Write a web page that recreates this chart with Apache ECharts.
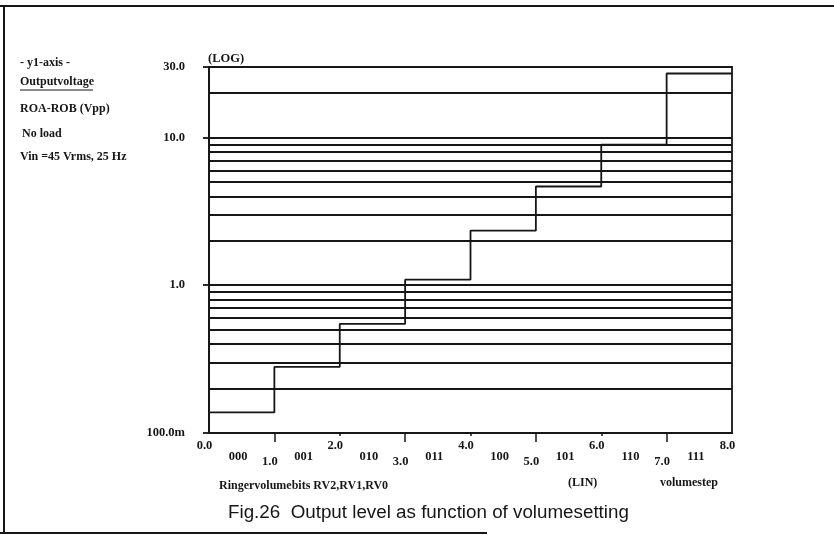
<!DOCTYPE html>
<html>
<head>
<meta charset="utf-8">
<script src="https://cdn.jsdelivr.net/npm/echarts@6/dist/echarts.min.js"></script>
<style>
  html, body { margin: 0; padding: 0; background: #fff; }
  #chart { width: 834px; height: 535px; }
</style>
</head>
<body>
<div id="chart"></div>
<script>
// ---- data ----
const steps = [0, 1, 2, 3, 4, 5, 6, 7];                       // volume step (start of each level)
const outputVpp = [0.138, 0.28, 0.547, 1.09, 2.34, 4.66, 8.93, 27.1]; // output voltage per step (Vpp)
const xEnd = 8;
const gridValues = [0.2, 0.3, 0.4, 0.5, 0.6, 0.7, 0.8, 0.9, 1,
                    2, 3, 4, 5, 6, 7, 8, 9, 10, 20, 30];
const yTickValues = [0.1, 1, 10, 30];
const yTickLabels = ['100.0m', '1.0', '10.0', '30.0'];
const xEvenValues = [0, 2, 4, 6, 8];
const xEvenLabels = ['0.0', '2.0', '4.0', '6.0', '8.0'];
const xOddValues = [1, 3, 5, 7];
const xOddLabels = ['1.0', '3.0', '5.0', '7.0'];
const codeValues = [0.5, 1.5, 2.5, 3.5, 4.5, 5.5, 6.5, 7.5];
const codeLabels = ['000', '001', '010', '011', '100', '101', '110', '111'];
const allXTicks = [1, 2, 3, 4, 5, 6, 7];

const INK = '#161616';
const SERIF = '"Liberation Serif", "DejaVu Serif", serif';

function lookup(vals, labels) {
  return function (v) {
    for (let i = 0; i < vals.length; i++) {
      if (Math.abs(vals[i] - v) < 1e-6 * Math.max(1, Math.abs(v))) return labels[i];
    }
    return '';
  };
}

const stepData = steps.map((s, i) => [s, outputVpp[i]]);
stepData.push([xEnd, outputVpp[outputVpp.length - 1]]);

const labelFont = { fontFamily: SERIF, fontSize: 12.5, fontWeight: 'bold', color: INK };

const chart = echarts.init(document.getElementById('chart'), null, { renderer: 'canvas' });
chart.setOption({
  animation: false,
  backgroundColor: '#fff',
  grid: {
    left: 209, right: 102, top: 67, bottom: 102,
    show: true, borderColor: INK, borderWidth: 1.8, backgroundColor: 'transparent'
  },
  xAxis: [
    {
      type: 'value', min: 0, max: 8, interval: 1, position: 'bottom',
      axisLine: { show: true, onZero: false, lineStyle: { color: INK, width: 1.8 } },
      axisTick: { show: true, customValues: allXTicks, length: 3, lineStyle: { color: INK, width: 1.5 } },
      axisLabel: { customValues: xEvenValues, formatter: lookup(xEvenValues, xEvenLabels),
                   margin: 6, padding: [0, 9, 0, 0], ...labelFont },
      splitLine: { show: false }
    },
    {
      type: 'value', min: 0, max: 8, interval: 1, position: 'bottom',
      axisLine: { show: false, onZero: false },
      axisTick: { show: true, customValues: xOddValues, length: 9, lineStyle: { color: INK, width: 1.5 } },
      axisLabel: { customValues: xOddValues, formatter: lookup(xOddValues, xOddLabels),
                   margin: 22, padding: [0, 9, 0, 0], ...labelFont },
      splitLine: { show: false }
    },
    {
      type: 'value', min: 0, max: 8, interval: 0.5, position: 'bottom',
      axisLine: { show: false, onZero: false },
      axisTick: { show: false },
      axisLabel: { customValues: codeValues, formatter: lookup(codeValues, codeLabels),
                   margin: 17, padding: [0, 7, 0, 0], ...labelFont },
      splitLine: { show: false }
    }
  ],
  yAxis: {
    type: 'log', logBase: 10, min: 0.1, max: 30,
    name: '(LOG)', nameLocation: 'end', nameGap: 2,
    nameTextStyle: { align: 'left', verticalAlign: 'bottom', fontFamily: SERIF, fontSize: 12.5, fontWeight: 'bold', color: INK, padding: [0, 0, 0, -1] },
    axisLine: { show: true, lineStyle: { color: INK, width: 1.8 } },
    axisTick: { show: true, length: 6, lineStyle: { color: INK, width: 1.8 } },
    axisLabel: { formatter: lookup(yTickValues, yTickLabels), margin: 24, padding: [4, 0, 0, 0], ...labelFont },
    splitLine: { show: false },
    minorTick: { show: false }
  },
  series: [
    {
      type: 'line',
      xAxisIndex: 0,
      step: 'end',
      data: stepData,
      symbol: 'none',
      lineStyle: { color: INK, width: 1.8 },
      z: 5,
      markLine: {
        silent: true,
        symbol: ['none', 'none'],
        label: { show: false },
        lineStyle: { color: INK, width: 1.8, type: 'solid' },
        data: gridValues.map(v => ({ yAxis: v }))
      }
    }
  ],
  graphic: [
    // frame
    { type: 'line', shape: { x1: 0, y1: 6, x2: 834, y2: 6 }, style: { stroke: INK, lineWidth: 2 } },
    { type: 'line', shape: { x1: 4, y1: 6, x2: 4, y2: 533 }, style: { stroke: INK, lineWidth: 2 } },
    { type: 'line', shape: { x1: 0, y1: 533, x2: 487, y2: 533 }, style: { stroke: INK, lineWidth: 2 } },
    // left description
    { type: 'text', left: 20, top: 57, style: { text: '- y1-axis -', font: 'bold 12px ' + SERIF, fill: INK } },
    { type: 'text', left: 20, top: 76, style: { text: 'Outputvoltage', font: 'bold 12px ' + SERIF, fill: INK } },
    { type: 'line', shape: { x1: 20, y1: 90, x2: 93, y2: 90 }, style: { stroke: INK, lineWidth: 1 } },
    { type: 'text', left: 20, top: 103, style: { text: 'ROA-ROB (Vpp)', font: 'bold 12px ' + SERIF, fill: INK } },
    { type: 'text', left: 22, top: 128, style: { text: 'No load', font: 'bold 12px ' + SERIF, fill: INK } },
    { type: 'text', left: 20, top: 151, style: { text: 'Vin =45 Vrms, 25 Hz', font: 'bold 12px ' + SERIF, fill: INK } },
    // x axis descriptions
    { type: 'text', left: 219, top: 480, style: { text: 'Ringervolumebits RV2,RV1,RV0', font: 'bold 12px ' + SERIF, fill: INK } },
    { type: 'text', left: 568, top: 477, style: { text: '(LIN)', font: 'bold 12px ' + SERIF, fill: INK } },
    { type: 'text', left: 660, top: 477, style: { text: 'volumestep', font: 'bold 12px ' + SERIF, fill: INK } },
    // caption
    { type: 'text', left: 228, top: 503, style: { text: 'Fig.26  Output level as function of volumesetting', font: '18.8px "Liberation Sans", Arial, sans-serif', fill: INK } }
  ]
});
</script>
</body>
</html>
